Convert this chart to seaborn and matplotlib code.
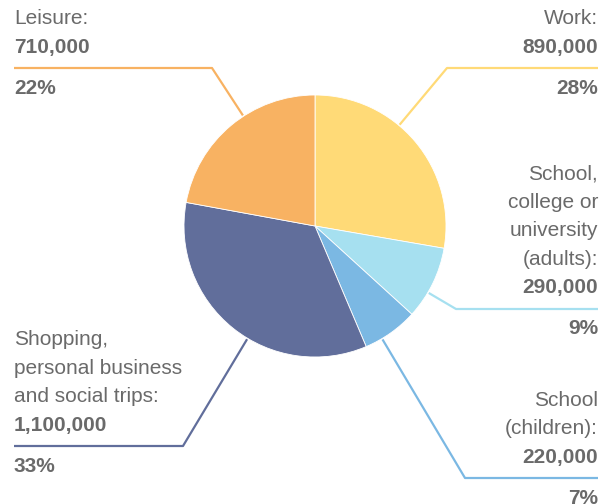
import numpy as np
import matplotlib
matplotlib.use("Agg")
import matplotlib.pyplot as plt
import seaborn as sns

# Data
purposes = ["Work:", "School,\ncollege or\nuniversity\n(adults):", "School\n(children):",
            "Shopping,\npersonal business\nand social trips:", "Leisure:"]
trips = [890000, 290000, 220000, 1100000, 710000]
shares = ["28%", "9%", "7%", "33%", "22%"]
colors = ["#FFDA77", "#A6E0F0", "#7BB8E3", "#616E9B", "#F8B262"]

# layout (pixels, top-left origin)
W, H = 608, 504
cx, cy, r = 315, 226, 131
# elbow of each leader line and far end of the horizontal part
elbows = [(447, 68), (456, 309), (465, 478), (183, 446), (212, 68)]
ends = [598, 598, 598, 14, 14]
text_col = "#6a6a6a"
line_h = 28.5
fs = 15

sns.set_theme(style="white")
plt.rcParams["font.family"] = ["Liberation Sans", "DejaVu Sans"]

fig = plt.figure(figsize=(W / 100, H / 100), dpi=100)
ax = fig.add_axes([0, 0, 1, 1])

def Y(y):
    return H - y

ax.pie(trips, colors=colors, startangle=90, counterclock=False,
       center=(cx, Y(cy)), radius=r, frame=False,
       wedgeprops=dict(linewidth=0.6, edgecolor="white"))
ax.set_xlim(0, W)
ax.set_ylim(0, H)
ax.set_aspect("equal")
ax.axis("off")

for lab, val, pct, col, (ex, ey), xe in zip(purposes, trips, shares, colors, elbows, ends):
    # leader line: horizontal part, then towards the pie centre
    d = np.array([cx - ex, cy - ey], dtype=float)
    dist = np.hypot(*d)
    px, py = np.array([cx, cy]) - d / dist * (r + 1)
    ax.plot([xe, ex, px], [Y(ey), Y(ey), Y(py)], color=col, lw=1.6,
            solid_capstyle="butt", zorder=0)

    ha = "right" if xe > cx else "left"
    lines = lab.split("\n")
    num_y = ey - 21
    ax.text(xe, Y(num_y), f"{val:,}", ha=ha, va="center", fontsize=fs,
            fontweight="bold", color=text_col)
    for i, t in enumerate(reversed(lines)):
        ax.text(xe, Y(num_y - line_h * (i + 1)), t, ha=ha, va="center",
                fontsize=fs, color=text_col)
    ax.text(xe, Y(ey + 20), pct, ha=ha, va="center", fontsize=fs,
            fontweight="bold", color=text_col)

fig.savefig("out.png", dpi=100)
